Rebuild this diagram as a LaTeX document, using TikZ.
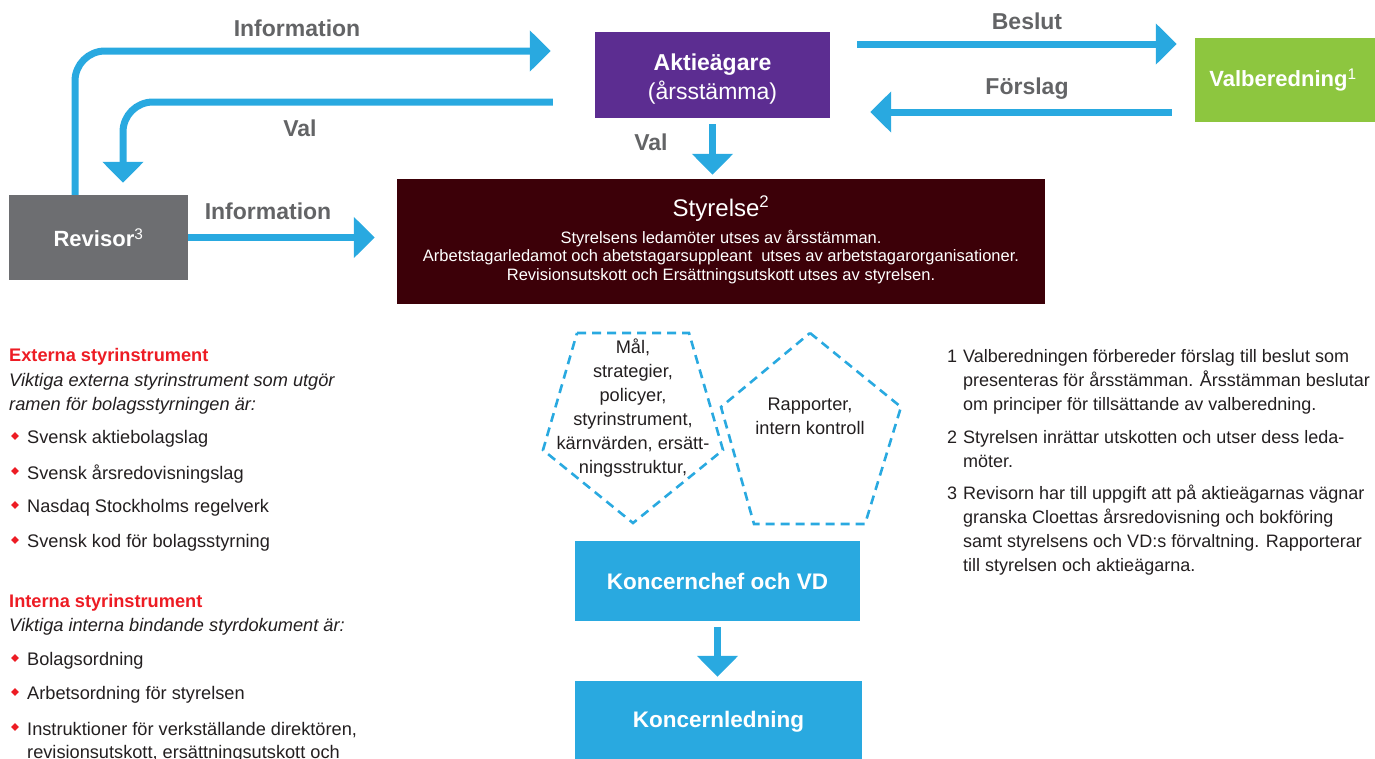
\documentclass[tikz,border=0pt]{standalone}
\usepackage{fontspec}
\setmainfont{Liberation Sans}
\usepackage{xcolor}
\usetikzlibrary{arrows.meta,shapes.geometric}

\definecolor{flowblue}{HTML}{29A9E0}
\definecolor{aktpurple}{HTML}{5C2D91}
\definecolor{valgreen}{HTML}{8DC63F}
\definecolor{stymaroon}{HTML}{3C0008}
\definecolor{revgray}{HTML}{6D6E71}
\definecolor{labelgray}{HTML}{636466}
\definecolor{headred}{HTML}{ED1C24}
\definecolor{bodytext}{HTML}{231F20}

\newcommand{\fnum}[1]{\makebox[16pt][l]{#1}}
\newcommand{\findent}{\hspace*{16pt}}

\begin{document}
\begin{tikzpicture}[
    x=1pt, y=-1pt,
    flow/.style={draw=flowblue, line width=7pt, -{Triangle[length=21pt,width=40pt]}},
    box/.style={rectangle, inner sep=0pt, text=white, align=center},
    flowlabel/.style={text=labelgray, font=\fontsize{23}{27}\selectfont\bfseries},
    pent/.style={draw=flowblue, line width=2.6pt, dash pattern=on 9pt off 6pt},
    penttext/.style={text=bodytext, align=center, font=\fontsize{18.2}{24}\selectfont},
    bodyline/.style={text=bodytext, anchor=west, inner sep=0pt, font=\fontsize{18.2}{24}\selectfont},
    headline/.style={text=headred, anchor=west, inner sep=0pt, font=\fontsize{18.2}{24}\selectfont\bfseries},
    bullet/.style={diamond, fill=headred, inner sep=0pt, minimum size=8pt},
    note/.style={text=bodytext, anchor=north west, inner sep=0pt, align=left, font=\fontsize{18}{24}\selectfont}
]
\useasboundingbox (0,0) rectangle (1375,758);

% Rutor
\node[box, fill=aktpurple, minimum width=235pt, minimum height=86pt] (akt) at (712.5,75) {};
\node[text=white, align=center, font=\fontsize{23}{29}\selectfont] (akttext) at (712.5,79) {\textbf{Aktieägare}\\(årsstämma)};
\node[box, fill=valgreen, minimum width=180pt, minimum height=84pt] (valb) at (1285,80) {};
\node[text=white, font=\fontsize{22}{26}\selectfont\bfseries] (valbtext) at (1283,80) {Valberedning\textsuperscript{\mdseries 1}};
\node[box, fill=revgray, minimum width=179pt, minimum height=85pt,
      font=\fontsize{22}{26}\selectfont\bfseries] (rev) at (98.5,237.5) {Revisor\textsuperscript{\mdseries 3}};
\node[box, fill=stymaroon, minimum width=648pt, minimum height=125pt] (sty) at (721,241.5) {};
\node[text=white, font=\fontsize{24}{28}\selectfont] (stytitle) at (721,209) {Styrelse\textsuperscript{2}};
\node[text=white, align=center, font=\fontsize{16.5}{18.5}\selectfont] (stytext) at (721,257)
  {Styrelsens ledamöter utses av årsstämman.\\
   Arbetstagarledamot och abetstagarsuppleant\ \ utses av arbetstagarorganisationer.\\
   Revisionsutskott och Ersättningsutskott utses av styrelsen.};
\node[box, fill=flowblue, minimum width=285pt, minimum height=80pt,
      font=\fontsize{22.5}{26}\selectfont\bfseries] (kvd) at (717.5,581) {Koncernchef och VD};
\node[box, fill=flowblue, minimum width=287pt, minimum height=88pt] (kled) at (718.5,725) {};
\node[text=white, font=\fontsize{22.5}{26}\selectfont\bfseries] (kledtext) at (718.5,722) {Koncernledning};

% Pilar
\coordinate (infoturn) at (75,51);
\coordinate (valturn) at (123,102);
\coordinate (beslutY) at (0,44);
\coordinate (forslagY) at (0,112);
\draw[flow, rounded corners=30pt, shorten >=44pt] (rev.north -| infoturn) |- (akt.west |- infoturn);
\draw[flow, rounded corners=30pt, shorten <=42pt, shorten >=12pt] (akt.west |- valturn) -| (rev.north -| valturn);
\draw[flow, shorten >=22pt] (rev.east) -- (sty.west |- rev.east);
\draw[flow, shorten <=6pt, shorten >=4pt] (akt.south) -- (sty.north -| akt.south);
\draw[flow, shorten <=27pt, shorten >=18pt] (akt.east |- beslutY) -- (valb.west |- beslutY);
\draw[flow, shorten <=23pt, shorten >=40pt] (valb.west |- forslagY) -- (akt.east |- forslagY);
\draw[flow, shorten <=6pt, shorten >=4pt] (kvd.south) -- (kled.north -| kvd.south);

% Etiketter
\node[flowlabel] (lblinfo) at (297,28) {Information};
\node[flowlabel] (lblval) at (300,128) {Val};
\node[flowlabel] (lblinforev) at (268,211) {Information};
\node[flowlabel] (lblvalsty) at (651,142) {Val};
\node[flowlabel] (lblbeslut) at (1027,21) {Beslut};
\node[flowlabel] (lblforslag) at (1027,89) {Förslag};

% Femhörningar
\draw[pent] (577,333) -- (689,333) -- (723,450) -- (633,523) -- (543,450) -- cycle;
\draw[pent] (810,333) -- (901,407) -- (865,524) -- (754,524) -- (721,407) -- cycle;
\node[penttext] (maltext) at (633,408) {Mål,\\strategier,\\policyer,\\styrinstrument,\\kärnvärden, ersätt-\\ningsstruktur,};
\node[penttext] (rapptext) at (810,416) {Rapporter,\\intern kontroll};

% Styrinstrument
\node[headline] (extern) at (9,357) {Externa styrinstrument};
\node[bodyline] (externtxt1) at (9,382) {\itshape Viktiga externa styrinstrument som utgör};
\node[bodyline] (externtxt2) at (9,406) {\itshape ramen för bolagsstyrningen är:};
\foreach \y/\t in {439/Svensk aktiebolagslag, 474/Svensk årsredovisningslag,
                   508/Nasdaq Stockholms regelverk, 543/Svensk kod för bolagsstyrning,
                   661/Bolagsordning, 695/Arbetsordning för styrelsen,
                   730/{Instruktioner för verkställande direktören,}}
{
  \node[bullet] at (15,\y-3) {};
  \node[bodyline] at (27,\y) {\t};
}
\node[bodyline] (instrtxt2) at (27,754) {revisionsutskott, ersättningsutskott och};
\node[headline] (intern) at (9,603) {Interna styrinstrument};
\node[bodyline] (interntxt) at (9,627) {\itshape Viktiga interna bindande styrdokument är:};

% Fotnoter
\node[note] (fn1) at (947,349) {\fnum{1}Valberedningen förbereder förslag till beslut som\\\findent presenteras för årsstämman. Årsstämman beslutar\\\findent om principer för tillsättande av valberedning.};
\node[note] (fn2) at (947,430) {\fnum{2}Styrelsen inrättar utskotten och utser dess leda-\\\findent möter.};
\node[note] (fn3) at (947,485) {\fnum{3}Revisorn har till uppgift att på aktieägarnas vägnar\\\findent granska Cloettas årsredovisning och bokföring\\\findent samt styrelsens och VD:s förvaltning. Rapporterar\\\findent till styrelsen och aktieägarna.};

\end{tikzpicture}
\end{document}
